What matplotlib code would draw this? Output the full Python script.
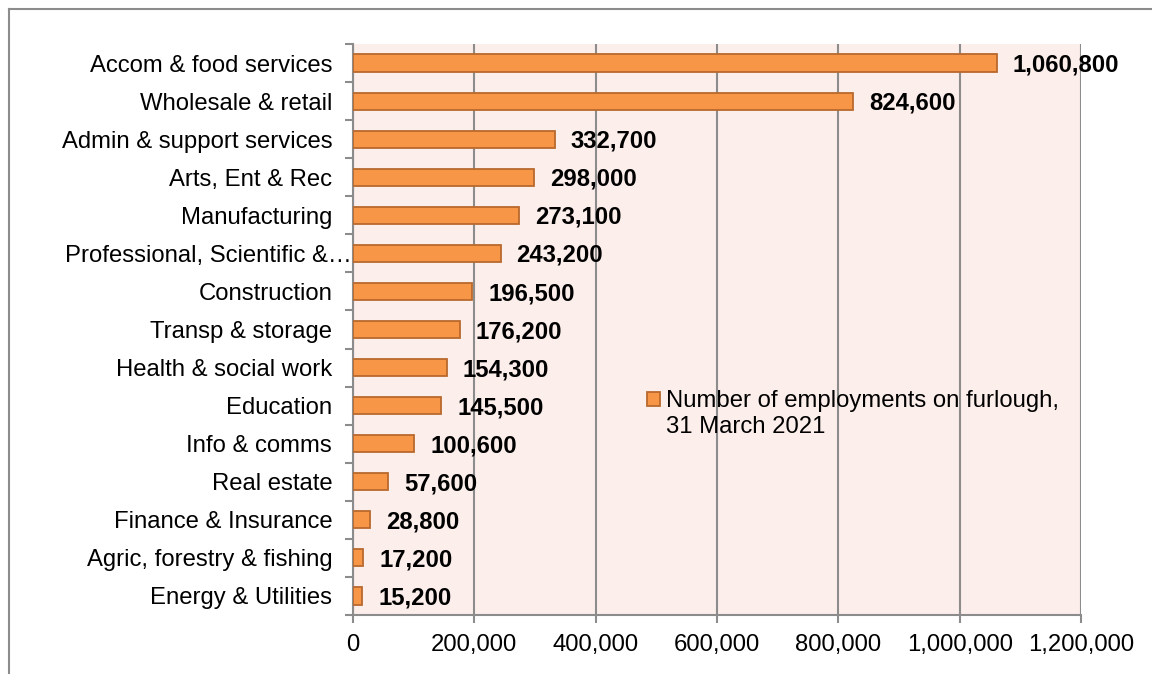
import numpy as np
import matplotlib.pyplot as plt
from matplotlib.lines import Line2D
from matplotlib.ticker import FuncFormatter
from matplotlib.transforms import ScaledTranslation

plt.rcParams['font.family'] = ['Liberation Sans', 'DejaVu Sans']

# furloughed employments by sector, 31 March 2021
sectors = [
    'Accom & food services', 'Wholesale & retail', 'Admin & support services',
    'Arts, Ent & Rec', 'Manufacturing', 'Professional, Scientific &\u2026',
    'Construction', 'Transp & storage', 'Health & social work', 'Education',
    'Info & comms', 'Real estate', 'Finance & Insurance',
    'Agric, forestry & fishing', 'Energy & Utilities',
]
furlough = [1060800, 824600, 332700, 298000, 273100, 243200, 196500, 176200,
            154300, 145500, 100600, 57600, 28800, 17200, 15200]
series_name = 'Number of employments on furlough,\n31 March 2021'

BAR = '#F79646'
EDGE = '#B9692D'
PANEL = '#FCEEEA'
GRID = '#8C8C8C'
FS = 17.2

fig = plt.figure(figsize=(11.52, 6.74), dpi=100, facecolor='white')
ax = fig.add_axes([353 / 1152, 1 - 615 / 674, 728 / 1152, 571 / 674])
ax.set_facecolor(PANEL)

# outer chart frame, only top and left edges fall inside the canvas
fig.add_artist(Line2D([9 / 1152, 9 / 1152], [0, 1 - 9 / 674],
                      color='#8C8C8C', lw=1.5, transform=fig.transFigure))
fig.add_artist(Line2D([9 / 1152, 1], [1 - 9 / 674, 1 - 9 / 674],
                      color='#8C8C8C', lw=1.5, transform=fig.transFigure))

n = len(sectors)
ypos = np.arange(n)[::-1]
ax.barh(ypos, furlough, height=0.45, color=BAR, edgecolor=EDGE,
        linewidth=1.3, zorder=3, label=series_name)

for y, v in zip(ypos, furlough):
    ax.annotate(f'{v:,}', (v, y), xytext=(11.5, -1.5), textcoords='offset points',
                ha='left', va='center', fontsize=FS, fontweight='bold',
                color='black', zorder=4)

ax.set_xlim(0, 1200000)
ax.set_ylim(-0.5, n - 0.5)
ax.set_xticks(np.arange(0, 1200001, 200000))
ax.xaxis.set_major_formatter(FuncFormatter(lambda v, _: f'{int(v):,}'))
ax.grid(axis='x', color=GRID, lw=1.5, zorder=0)

ax.set_yticks(ypos)
ax.set_yticklabels(sectors)
ax.set_yticks(np.arange(-0.5, n, 1.0), minor=True)
ax.tick_params(axis='y', which='major', length=0, pad=15, labelsize=FS)
ax.tick_params(axis='y', which='minor', length=6, width=1.5, color=GRID,
               direction='out')
ax.tick_params(axis='x', length=6, width=1.5, color=GRID, direction='out',
               labelsize=FS, pad=8)

# the truncated label runs into the axis line
for lab in ax.get_yticklabels():
    if lab.get_text().endswith('\u2026'):
        lab.set_transform(lab.get_transform()
                          + ScaledTranslation(20 / 100, 0, fig.dpi_scale_trans))

for side in ('top', 'right'):
    ax.spines[side].set_visible(False)
for side in ('left', 'bottom'):
    ax.spines[side].set_color(GRID)
    ax.spines[side].set_linewidth(1.5)

leg = ax.legend(loc='upper left', bbox_to_anchor=(0.404, 0.394), frameon=False,
                fontsize=FS, handlelength=0.55, handleheight=0.55,
                handletextpad=0.22, borderaxespad=0, borderpad=0)
for t in leg.get_texts():
    t.set_linespacing(1.26)
# keep the swatch level with the first line of the label (units: points)
for h in leg.legend_handles:
    h.set_y(h.get_y() + 10.8)

fig.savefig('out.png', dpi=100, facecolor='white')
